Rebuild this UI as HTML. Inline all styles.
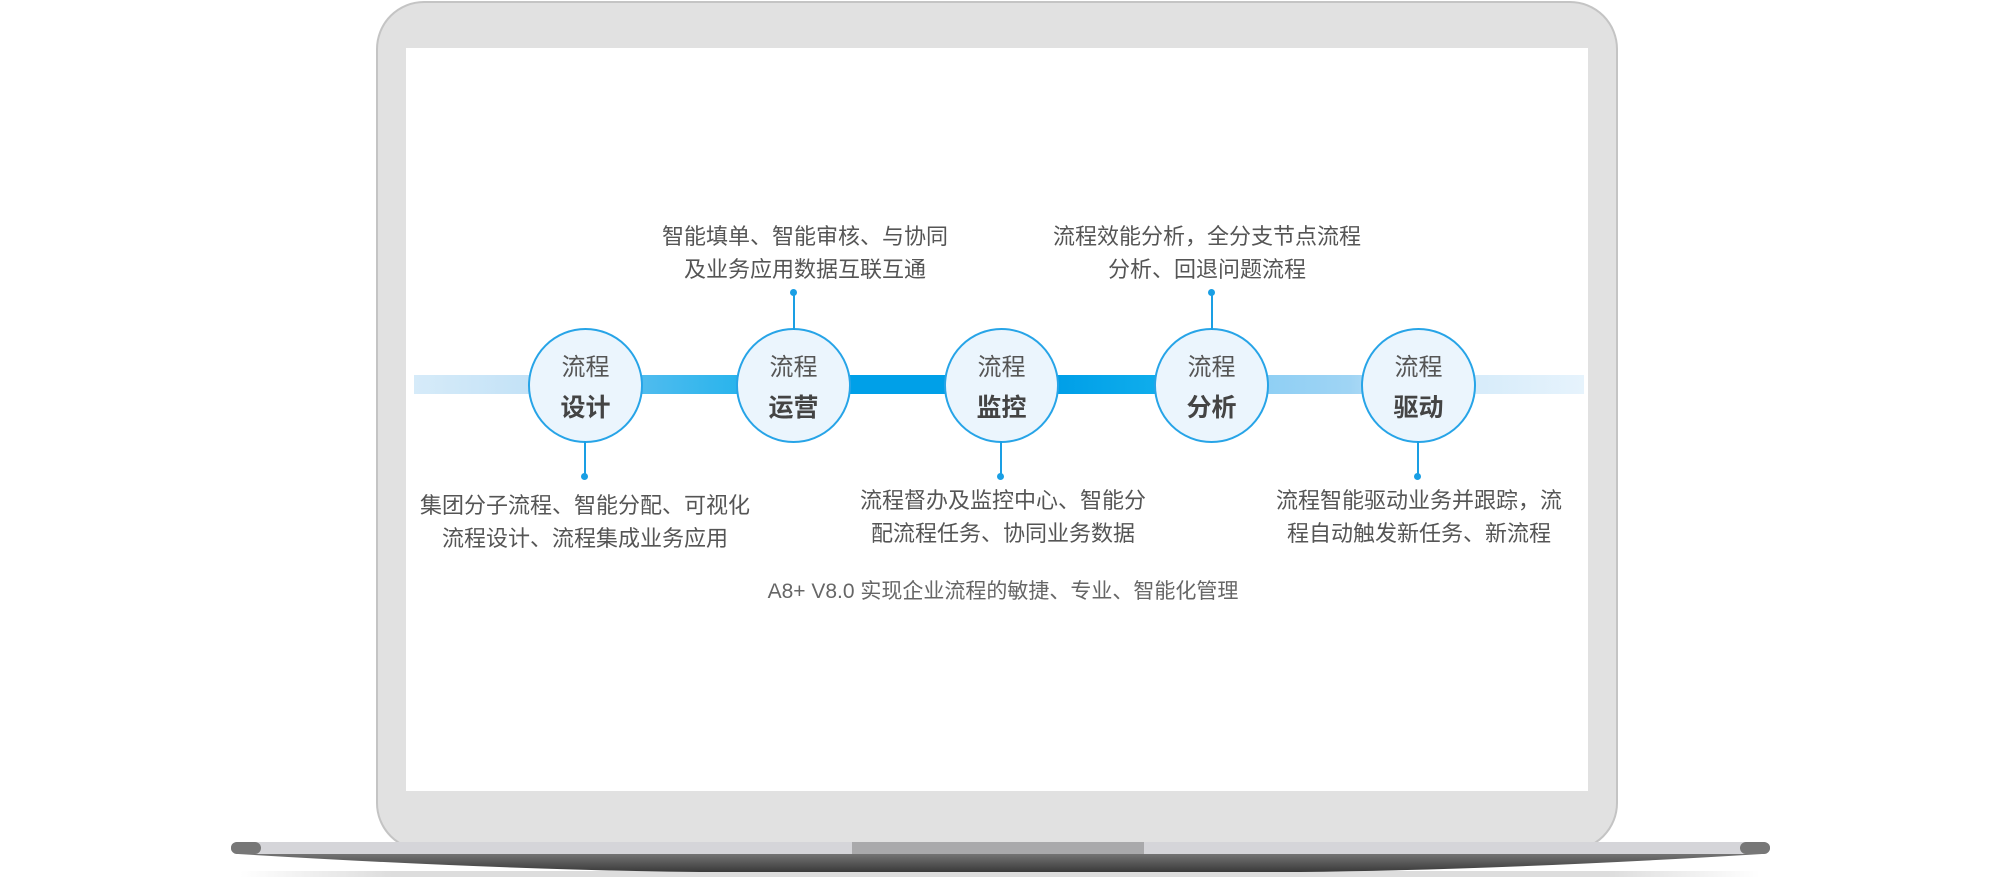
<!DOCTYPE html>
<html><head><meta charset="utf-8"><style>
body{margin:0;width:2000px;height:881px;background:#fff;position:relative;overflow:hidden;font-family:"Liberation Sans","Noto Sans CJK SC",sans-serif}
.abs{position:absolute}
.frame{left:376px;top:1px;width:1242px;height:850px;background:#e1e1e1;border:2px solid #c4c4c4;border-radius:48px;box-sizing:border-box}
.screen{left:406px;top:48px;width:1182px;height:743px;background:#fff}
.bar{left:414px;top:375px;width:1170px;height:19px;background:linear-gradient(90deg,#d6ebf9 0%,#bfe0f6 12%,#b8ddf5 15%,#5fbfef 16%,#1fb2ec 30%,#00a0e8 36%,#009fe8 55%,#10aeec 64%,#82cbf3 67%,#9fd4f4 80%,#cfe8f9 86%,#e6f3fc 100%)}
.c{width:115px;height:115px;border-radius:50%;background:#ebf5fd;border:2px solid #27a4e7;box-sizing:border-box;text-align:center;color:#555}
.c .a{position:absolute;top:17px;width:100%;font-size:24px}
.c .b{position:absolute;top:58px;width:100%;font-size:25px;font-weight:bold;color:#444}
.ln{width:2px;background:#1a9fe4}
.dot{width:7px;height:7px;border-radius:50%;background:#1a9fe4}
.t{width:440px;text-align:center;font-size:22px;line-height:33px;color:#555}
</style></head><body>
<div class="abs frame"></div>
<div class="abs screen"></div>
<svg class="abs" style="left:0;top:0" width="2000" height="881">
<defs><linearGradient id="g" x1="0" y1="0" x2="0" y2="1"><stop offset="0" stop-color="#9a9a9a"/><stop offset="1" stop-color="#3a3a3a"/></linearGradient>
<linearGradient id="s" x1="0" y1="0" x2="1" y2="0"><stop offset="0" stop-color="#fff"/><stop offset="0.1" stop-color="#ddd"/><stop offset="0.9" stop-color="#ddd"/><stop offset="1" stop-color="#fff"/></linearGradient></defs>
<rect x="240" y="871" width="1520" height="6" fill="url(#s)"/>
<path d="M238 842 H1762 Q1770 842 1770 848 Q1770 853 1762 854 Q1500 870 1300 872 H700 Q500 870 238 854 Q231 853 231 848 Q231 842 238 842Z" fill="url(#g)"/>
<rect x="238" y="842" width="1524" height="12" fill="#d5d5d9"/>
<rect x="231" y="842" width="30" height="12" rx="6" fill="#777"/>
<rect x="1740" y="842" width="30" height="12" rx="6" fill="#777"/>
<rect x="852" y="842" width="292" height="12" fill="#a9a9ab"/>
</svg>
<div class="abs bar"></div>
<div class="abs c" style="left:528px;top:328px"><div class="a">流程</div><div class="b">设计</div></div>
<div class="abs c" style="left:736px;top:328px"><div class="a">流程</div><div class="b">运营</div></div>
<div class="abs c" style="left:944px;top:328px"><div class="a">流程</div><div class="b">监控</div></div>
<div class="abs c" style="left:1154px;top:328px"><div class="a">流程</div><div class="b">分析</div></div>
<div class="abs c" style="left:1361px;top:328px"><div class="a">流程</div><div class="b">驱动</div></div>
<div class="abs ln" style="left:584px;top:441px;height:35px"></div><div class="abs dot" style="left:581px;top:473px"></div>
<div class="abs ln" style="left:1000px;top:441px;height:35px"></div><div class="abs dot" style="left:997px;top:473px"></div>
<div class="abs ln" style="left:1417px;top:441px;height:35px"></div><div class="abs dot" style="left:1414px;top:473px"></div>
<div class="abs ln" style="left:793px;top:292px;height:38px"></div><div class="abs dot" style="left:790px;top:289px"></div>
<div class="abs ln" style="left:1211px;top:292px;height:38px"></div><div class="abs dot" style="left:1208px;top:289px"></div>
<div class="abs t" style="left:585px;top:220px">智能填单、智能审核、与协同<br>及业务应用数据互联互通</div>
<div class="abs t" style="left:987px;top:220px">流程效能分析，全分支节点流程<br>分析、回退问题流程</div>
<div class="abs t" style="left:365px;top:489px">集团分子流程、智能分配、可视化<br>流程设计、流程集成业务应用</div>
<div class="abs t" style="left:783px;top:484px">流程督办及监控中心、智能分<br>配流程任务、协同业务数据</div>
<div class="abs t" style="left:1199px;top:484px">流程智能驱动业务并跟踪，流<br>程自动触发新任务、新流程</div>
<div class="abs t" style="left:733px;top:575px;width:540px;font-size:21px;color:#666">A8+ V8.0 实现企业流程的敏捷、专业、智能化管理</div>
</body></html>
